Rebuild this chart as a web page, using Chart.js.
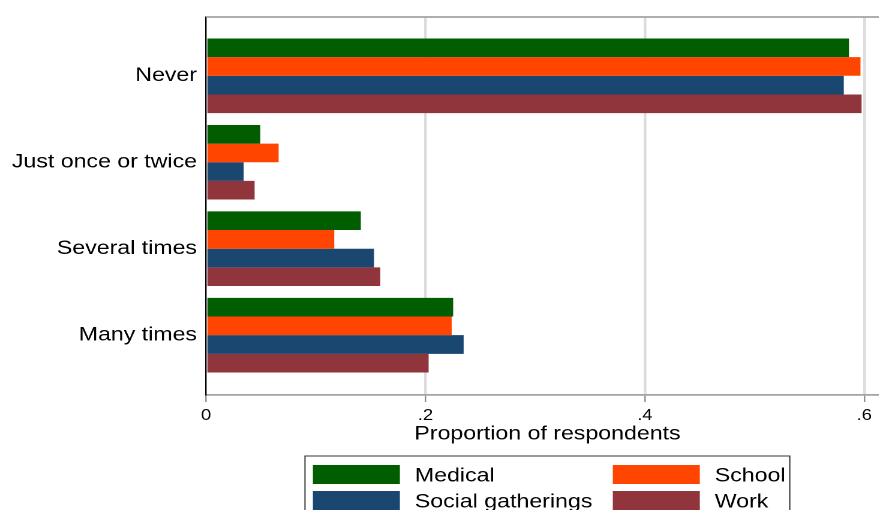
<!DOCTYPE html>
<html>
<head>
<meta charset="utf-8">
<script src="https://cdn.jsdelivr.net/npm/chart.js@4"></script>
<style>
  html, body { margin: 0; padding: 0; background: #fff; overflow: hidden; width: 879px; height: 510px; }
  #wrap { position: relative; width: 879px; height: 510px; overflow: hidden; }
  canvas { display: block; }
</style>
</head>
<body>
<div id="wrap">
  <!-- drawn at 741 wide and widened by CSS so the lettering is horizontally stretched -->
  <canvas id="c" width="741" height="510" style="width:889.2px;height:510px"></canvas>
</div>
<script>
// Response categories (rows) and the four settings (series)
const categories = ['Never', 'Just once or twice', 'Several times', 'Many times'];
const seriesNames = ['Medical', 'School', 'Social gatherings', 'Work'];

// Proportion of respondents per category
const medical = [0.586, 0.0495, 0.1411, 0.2253];
const school  = [0.5965, 0.0662, 0.1169, 0.2239];
const social  = [0.5813, 0.0343, 0.1531, 0.2348];
const work    = [0.5975, 0.0443, 0.1588, 0.2029];

// Value axis ticks
const xTickValues = [0, 0.2, 0.4, 0.6];
const xTickLabels = ['0', '.2', '.4', '.6'];

const seriesValues = [medical, school, social, work];
const seriesColors = ['#005e00', '#ff4500', '#1a476f', '#90353b'];

const FONT = '"Liberation Sans", Arial, Helvetica, sans-serif';

// Top rule of the plot region plus the boxed two-column key underneath
const decorations = {
  id: 'decorations',
  beforeDatasetsDraw(chart) {
    const { ctx, chartArea: a } = chart;
    ctx.save();
    ctx.strokeStyle = '#a3a3a3';
    ctx.lineWidth = 1.7;
    ctx.beginPath();
    ctx.moveTo(a.left, a.top);
    ctx.lineTo(chart.width, a.top);
    ctx.stroke();
    ctx.restore();
  },
  afterDraw(chart) {
    const ctx = chart.ctx;
    const box = { left: 254.2, top: 456, right: 658.3 };
    const colX = [260.8, 510.8];
    const textX = [345.8, 595.8];
    const rowY = [465, 491];
    const baseY = [481.7, 507.6];
    const swW = 72.5, swH = 19;
    ctx.save();
    ctx.strokeStyle = '#333';
    ctx.lineWidth = 1;
    ctx.strokeRect(box.left, box.top, box.right - box.left, 90);
    ctx.font = '19.3px ' + FONT;
    ctx.textBaseline = 'alphabetic';
    ctx.textAlign = 'left';
    seriesNames.forEach((name, k) => {
      const c = k % 2, r = Math.floor(k / 2);
      ctx.fillStyle = seriesColors[k];
      ctx.fillRect(colX[c], rowY[r], swW, swH);
      ctx.fillStyle = '#000';
      ctx.fillText(name, textX[c], baseY[r]);
    });
    ctx.restore();
  }
};

new Chart(document.getElementById('c'), {
  type: 'bar',
  data: {
    datasets: seriesNames.map((name, k) => ({
      label: name,
      data: seriesValues[k].map((v, i) => ({ x: v, y: i })),
      backgroundColor: seriesColors[k],
      borderWidth: 0,
      categoryPercentage: 0.863,
      barPercentage: 1
    }))
  },
  options: {
    indexAxis: 'y',
    responsive: false,
    devicePixelRatio: 2,
    animation: false,
    events: [],
    layout: { padding: { top: 17, left: 0, right: 0, bottom: 64.2 } },
    plugins: { legend: { display: false }, tooltip: { enabled: false } },
    scales: {
      x: {
        type: 'linear',
        min: 0,
        max: 0.6225,
        afterBuildTicks: s => { s.ticks = xTickValues.map(v => ({ value: v })); },
        afterFit: s => { s.height = 50.8; s.paddingLeft = 0; s.paddingRight = 0; },
        grid: {
          color: c => (c.tick && c.tick.value === 0) ? 'rgba(0,0,0,0)' : '#dcdcdc',
          lineWidth: 2.3,
          drawTicks: true,
          tickLength: 7,
          tickColor: '#8c8c8c',
          tickWidth: 1.2
        },
        border: { display: true, color: '#a3a3a3', width: 1.7 },
        ticks: {
          callback: (v, i) => xTickLabels[i],
          font: { family: FONT, size: 15.3 },
          color: '#000',
          padding: 4.8,
          maxRotation: 0,
          autoSkip: false
        },
        title: {
          display: true,
          text: 'Proportion of respondents',
          font: { family: FONT, size: 19.3 },
          color: '#000',
          padding: 0
        }
      },
      y: {
        type: 'linear',
        reverse: true,
        offset: false,
        min: -0.68,
        max: 3.692,
        afterBuildTicks: s => { s.ticks = categories.map((c, i) => ({ value: i })); },
        afterFit: s => { s.width = 171.7; s.paddingTop = 0; s.paddingBottom = 0; },
        grid: { display: false, drawTicks: false, tickLength: 0, offset: false },
        border: { display: true, color: '#000', width: 1.2 },
        ticks: {
          callback: v => categories[v],
          font: { family: FONT, size: 19.3 },
          color: '#000',
          padding: 7.5,
          labelOffset: 0,
          autoSkip: false
        }
      }
    }
  },
  plugins: [decorations]
});
</script>
</body>
</html>
